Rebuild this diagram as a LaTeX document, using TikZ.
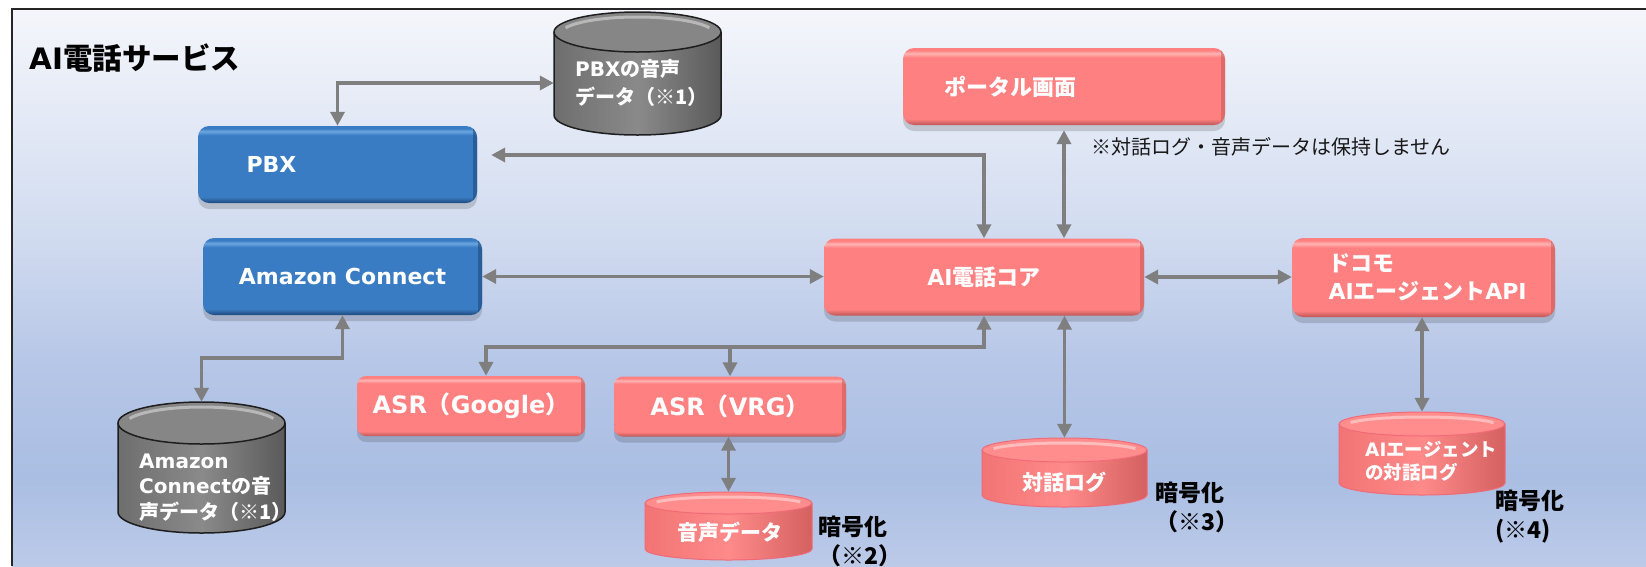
\documentclass[tikz,border=0pt]{standalone}
\usepackage{fontspec}
\setmainfont{Noto Sans CJK JP}
\newfontfamily\lat{DejaVu Sans}
\usetikzlibrary{arrows.meta,shadows}

\definecolor{bgtop}{HTML}{F4F6FB}
\definecolor{bgmid}{HTML}{D2DCF0}
\definecolor{bglm}{HTML}{B6C6E7}
\definecolor{bglow}{HTML}{AABEE3}
\definecolor{bgbot}{HTML}{BCCAE8}
\definecolor{bbase}{HTML}{3A7CC3}
\definecolor{blight}{HTML}{6BA6DF}
\definecolor{bdark}{HTML}{1E4A7E}
\definecolor{rbase}{HTML}{FF8080}
\definecolor{rlight}{HTML}{FFB4B4}
\definecolor{rdark}{HTML}{BE5656}
\definecolor{conncol}{HTML}{7F7F7F}
\definecolor{cgl}{HTML}{6E6E6E}
\definecolor{cgm}{HTML}{8A8A8A}
\definecolor{cgr}{HTML}{5A5A5A}
\definecolor{cgt}{HTML}{868686}
\definecolor{cghl}{HTML}{B8B8B8}
\definecolor{cgedge}{HTML}{1E1E1E}
\definecolor{crl}{HTML}{F27474}
\definecolor{crm}{HTML}{FF8A8A}
\definecolor{crr}{HTML}{D46060}
\definecolor{crt}{HTML}{FF8D8D}
\definecolor{crhl}{HTML}{FFBCBC}
\definecolor{credge}{HTML}{F06A78}

\pgfdeclareverticalshading{bgshade}{100bp}{color(0bp)=(bgbot); color(25bp)=(bgbot); color(33bp)=(bglow); color(43bp)=(bglm); color(55bp)=(bgmid); color(75bp)=(bgtop); color(100bp)=(bgtop)}
\pgfdeclareverticalshading{redbevel}{100bp}{color(0bp)=(rdark); color(25bp)=(rdark); color(29bp)=(rbase); color(69bp)=(rbase); color(71.5bp)=(rlight); color(73.5bp)=(rbase); color(100bp)=(rbase)}
\pgfdeclareverticalshading{bluebevel}{100bp}{color(0bp)=(bdark); color(25bp)=(bdark); color(29bp)=(bbase); color(69bp)=(bbase); color(71.5bp)=(blight); color(73.5bp)=(bbase); color(100bp)=(bbase)}

\tikzset{
  box/.style={rounded corners=11pt, inner sep=0pt, text=white,
    font=\bfseries\fontsize{22}{28}\selectfont, minimum height=77pt,
    drop shadow={shadow xshift=0pt, shadow yshift=-6pt, opacity=0.15, fill=black}},
  bluebox/.style={box, shading=bluebevel,
    path picture={\draw[bdark, line width=6pt, opacity=0.6]
      ([xshift=-1pt]path picture bounding box.north east) --
      ([xshift=-1pt]path picture bounding box.south east);}},
  redbox/.style={box, shading=redbevel,
    path picture={\draw[rdark, line width=6pt, opacity=0.5]
      ([xshift=-1pt]path picture bounding box.north east) --
      ([xshift=-1pt]path picture bounding box.south east);}},
  asrbox/.style={redbox, rounded corners=9pt, minimum height=60pt,
    font=\bfseries\fontsize{24}{28}\selectfont},
  conn/.style={draw=conncol, line width=3.5pt},
  cylnode/.style={draw=none, inner sep=0pt, rectangle},
  cylbody gray/.style={left color=cgl, right color=cgr, middle color=cgm},
  cyltop gray/.style={fill=cgt},
  cyledge gray/.style={draw=cgedge, line width=1.5pt},
  cylhl gray/.style={draw=cghl, line width=3pt},
  cylbody red/.style={left color=crl, right color=crr, middle color=crm},
  cyltop red/.style={fill=crt},
  cyledge red/.style={draw=credge, line width=1pt},
  cylhl red/.style={draw=crhl, line width=3pt},
  cyltext/.style={inner sep=0pt, text=white, align=left},
  enclabel/.style={inner sep=0pt, text=black, align=left, anchor=west,
    font=\bfseries\fontsize{23}{29}\selectfont},
}

\newcommand\drawcyl[7]{%
  \pgfmathsetmacro\cylL{#2-#4/2}%
  \pgfmathsetmacro\cylR{#2+#4/2}%
  \pgfmathsetmacro\cylT{#3+#6}%
  \pgfmathsetmacro\cylB{#3+#5-#6}%
  \pgfmathsetmacro\cylRx{#4/2}%
  \pgfmathsetmacro\cylM{#3+#5/2}%
  \pgfmathsetmacro\cylHx{#4/2-7}%
  \pgfmathsetmacro\cylHy{#6-3.5}%
  \pgfmathsetmacro\cylHc{#3+#6+1.5}%
  \node[cylnode, minimum width=#4pt, minimum height=#5pt] (#1) at (#2,\cylM) {};
  \shade[cylbody #7] (\cylL,\cylT) -- (\cylL,\cylB) arc[start angle=180, end angle=360, x radius=\cylRx pt, y radius=#6pt] -- (\cylR,\cylT) -- cycle;
  \draw[cyledge #7] (\cylL,\cylT) -- (\cylL,\cylB) arc[start angle=180, end angle=360, x radius=\cylRx pt, y radius=#6pt] -- (\cylR,\cylT);
  \path[cyltop #7] (#2,\cylT) ellipse[x radius=\cylRx pt, y radius=#6pt];
  \draw[cylhl #7] (#2,\cylHc) ++(160:\cylHx pt and \cylHy pt) arc[start angle=160, end angle=20, x radius=\cylHx pt, y radius=\cylHy pt];
  \draw[cyledge #7] (#2,\cylT) ellipse[x radius=\cylRx pt, y radius=#6pt];
}

\begin{document}
\begin{tikzpicture}[x=1pt,y=-1pt, >={Triangle[length=14pt,width=14pt]}]
\useasboundingbox (0,0) rectangle (1646,566);
% background and frame
\fill[white] (0,0) rectangle (1646,566);
\shade[shading=bgshade] (12,9) rectangle (1646,566);
\draw[line width=1.5pt, black!85] (1646,9) -- (12,9) -- (12,566);

% title and note
\node[anchor=west, inner sep=0pt, font=\bfseries\fontsize{29.5}{33}\selectfont] (title) at (29,58) {{\lat AI}電話サービス};
\node[anchor=west, inner sep=0pt, text=black!90, font=\fontsize{20}{24}\selectfont] (note) at (1091,147) {※対話ログ・音声データは保持しません};

% boxes
\node[bluebox, minimum width=279pt, text width=182pt, align=left] (pbx) at (337.5,164.5) {{\lat PBX}};
\node[bluebox, minimum width=279pt] (ac) at (342.5,276.5) {{\lat Amazon Connect}};
\node[redbox, minimum width=322pt, text width=240pt, align=left] (portal) at (1064,86.5) {ポータル画面};
\node[redbox, minimum width=320pt] (core) at (984,277) {{\lat AI}電話コア};
\node[redbox, minimum width=263pt, minimum height=79pt, text width=190pt, align=left] (docomo) at (1423.5,277.5) {ドコモ\\{\lat AI}エージェント{\lat API}};
\node[asrbox, minimum width=228pt] (asrg) at (471,406) {{\lat ASR}（{\lat Google}）};
\node[asrbox, minimum width=232pt] (asrv) at (730,406.5) {{\lat ASR}（{\lat VRG}）};

% cylinders
\drawcyl{pbxdb}{637.5}{12}{167}{123}{20}{gray}
\drawcyl{acdb}{201.5}{402}{167}{131}{21}{gray}
\drawcyl{vdb}{728.5}{492}{167}{68}{11}{red}
\drawcyl{tdb}{1064.5}{438}{165}{69}{12}{red}
\drawcyl{adb}{1422}{412}{166}{83}{12}{red}

% cylinder texts
\node[cyltext, anchor=west, font=\bfseries\fontsize{20}{28}\selectfont] (pbxdbt) at (575,83) {{\lat PBX}の音声\\データ（※1）};
\node[cyltext, anchor=west, font=\bfseries\fontsize{20}{25.5}\selectfont] (acdbt) at (139,487.5) {{\lat Amazon}\\{\lat Connect}の音\\声データ（※1）};
\node[cyltext, font=\bfseries\fontsize{21}{25}\selectfont] (vdbt) at (730,532) {音声データ};
\node[cyltext, font=\bfseries\fontsize{21}{25}\selectfont] (tdbt) at (1064,482) {対話ログ};
\node[cyltext, anchor=west, font=\bfseries\fontsize{18.5}{23}\selectfont] (adbt) at (1365,461.5) {{\lat AI}エージェント\\の対話ログ};

% encryption labels
\node[enclabel] (enc2) at (818,541) {暗号化\\（※2）};
\node[enclabel] (enc3) at (1155,507) {暗号化\\（※3）};
\node[enclabel] (enc4) at (1495,517) {暗号化\\(※4)};

% connectors
\coordinate (bus) at (986,347);
\draw[conn,<->] (pbx.north) |- ([yshift=-9.5pt]pbxdb.west);
\draw[conn,<->] ([xshift=14pt,yshift=9.5pt]pbx.east) -| (core.north);
\draw[conn,<->] ([yshift=-5pt]portal.south) -- (portal.south |- core.north);
\draw[conn,<->] (ac.east) -- (ac.east -| core.west);
\draw[conn,<->] (core.east) -- (core.east -| docomo.west);
\draw[conn,<->] (ac.south) -- ++(0,43) -| (acdb.north);
\draw[conn,<->] (core.south) -- (core.south |- bus) -| ([xshift=15pt]asrg.north);
\draw[conn,->] (bus -| asrv.north) -- (asrv.north);
\draw[conn,<->] (asrv.south -| vdb.north) -- (vdb.north);
\draw[conn,<->] (core.south -| tdb.north) -- (tdb.north);
\draw[conn,<->] (docomo.south -| adb.north) -- (adb.north);
\end{tikzpicture}
\end{document}
